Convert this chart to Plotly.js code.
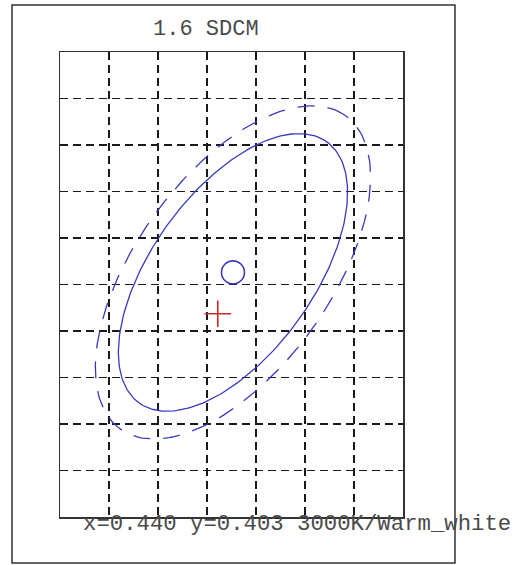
<!DOCTYPE html>
<html>
<head>
<meta charset="utf-8">
<script src="https://cdn.plot.ly/plotly-3.0.1.min.js"></script>
<style>html,body{margin:0;padding:0;background:#fff;}#chart{width:527px;height:565px;}</style>
</head>
<body>
<div id="chart"></div>
<script>
// Grid units: 7 columns x 10 rows
const xRange = [0, 7];
const yRange = [0, 10];

// Ellipse parameters (grid units): solid = 1.6 SDCM, dashed = outer tolerance
const ellipseCenterX = [3.53];
const ellipseCenterY = [5.26];
const semiMajor = [3.40, 4.08];
const semiMinor = [1.68, 2.02];
const tiltDeg = [56.6, 56.6];
const ellipseDash = ["solid", "17px,13px"];

// Measured point (red cross)
const measX = [3.22];
const measY = [4.37];

const titleText = "1.6 SDCM";
const infoText = "x=0.440 y=0.403 3000K/Warm_white";

function ellipsePts(cx, cy, a, b, deg) {
  const p = deg * Math.PI / 180, xs = [], ys = [];
  const n = 240;
  for (let i = 0; i <= n; i++) {
    const t = 2 * Math.PI * i / n;
    xs.push(cx + a * Math.cos(t) * Math.cos(p) - b * Math.sin(t) * Math.sin(p));
    ys.push(cy + a * Math.cos(t) * Math.sin(p) + b * Math.sin(t) * Math.cos(p));
  }
  return {xs, ys};
}

const blue = "#3a3ac0";
const traces = [];
for (let k = 0; k < semiMajor.length; k++) {
  const e = ellipsePts(ellipseCenterX[0], ellipseCenterY[0], semiMajor[k], semiMinor[k], tiltDeg[k]);
  traces.push({
    x: e.xs, y: e.ys, mode: "lines", type: "scatter",
    line: {color: blue, width: 1.3, dash: ellipseDash[k]},
    hoverinfo: "skip", showlegend: false
  });
}
traces.push({
  x: ellipseCenterX, y: ellipseCenterY, mode: "markers", type: "scatter",
  marker: {symbol: "circle-open", size: 23, color: blue, line: {width: 1.6, color: blue}},
  showlegend: false
});
traces.push({
  x: measX, y: measY, mode: "markers", type: "scatter",
  marker: {symbol: "cross-thin-open", size: 19, color: "#d02828", line: {width: 1.6, color: "#d02828"}},
  showlegend: false
});

const axisCommon = {
  showticklabels: false, ticks: "", zeroline: false,
  showgrid: true, gridcolor: "#1a1a1a", gridwidth: 1.4, griddash: "8px,5px",
  showline: true, mirror: true, linecolor: "#333", linewidth: 1.5,
  dtick: 1, fixedrange: true
};

const font = "Liberation Mono, Courier New, monospace";
const layout = {
  width: 527, height: 565,
  margin: {l: 60, r: 124, t: 52, b: 48},
  paper_bgcolor: "#fff", plot_bgcolor: "#fff",
  xaxis: Object.assign({range: xRange, tick0: 0}, axisCommon),
  yaxis: Object.assign({range: yRange, tick0: 0}, axisCommon),
  shapes: [{
    type: "rect", xref: "paper", yref: "paper",
    x0: -0.140, x1: 1.1516, y0: -0.0989, y1: 1.1011,
    line: {color: "#333", width: 1.5}, layer: "below"
  }],
  annotations: [
    {text: titleText, xref: "paper", yref: "paper", x: 0.266, y: 1.049,
     xanchor: "left", yanchor: "middle", showarrow: false,
     font: {family: font, size: 22, color: "#4a4a4a"}},
    {text: infoText, xref: "paper", yref: "paper", x: 0.061, y: -0.016,
     xanchor: "left", yanchor: "middle", showarrow: false,
     font: {family: font, size: 22.3, color: "#4a4a4a"}}
  ]
};

Plotly.newPlot("chart", traces, layout, {staticPlot: true, displayModeBar: false});
</script>
</body>
</html>
